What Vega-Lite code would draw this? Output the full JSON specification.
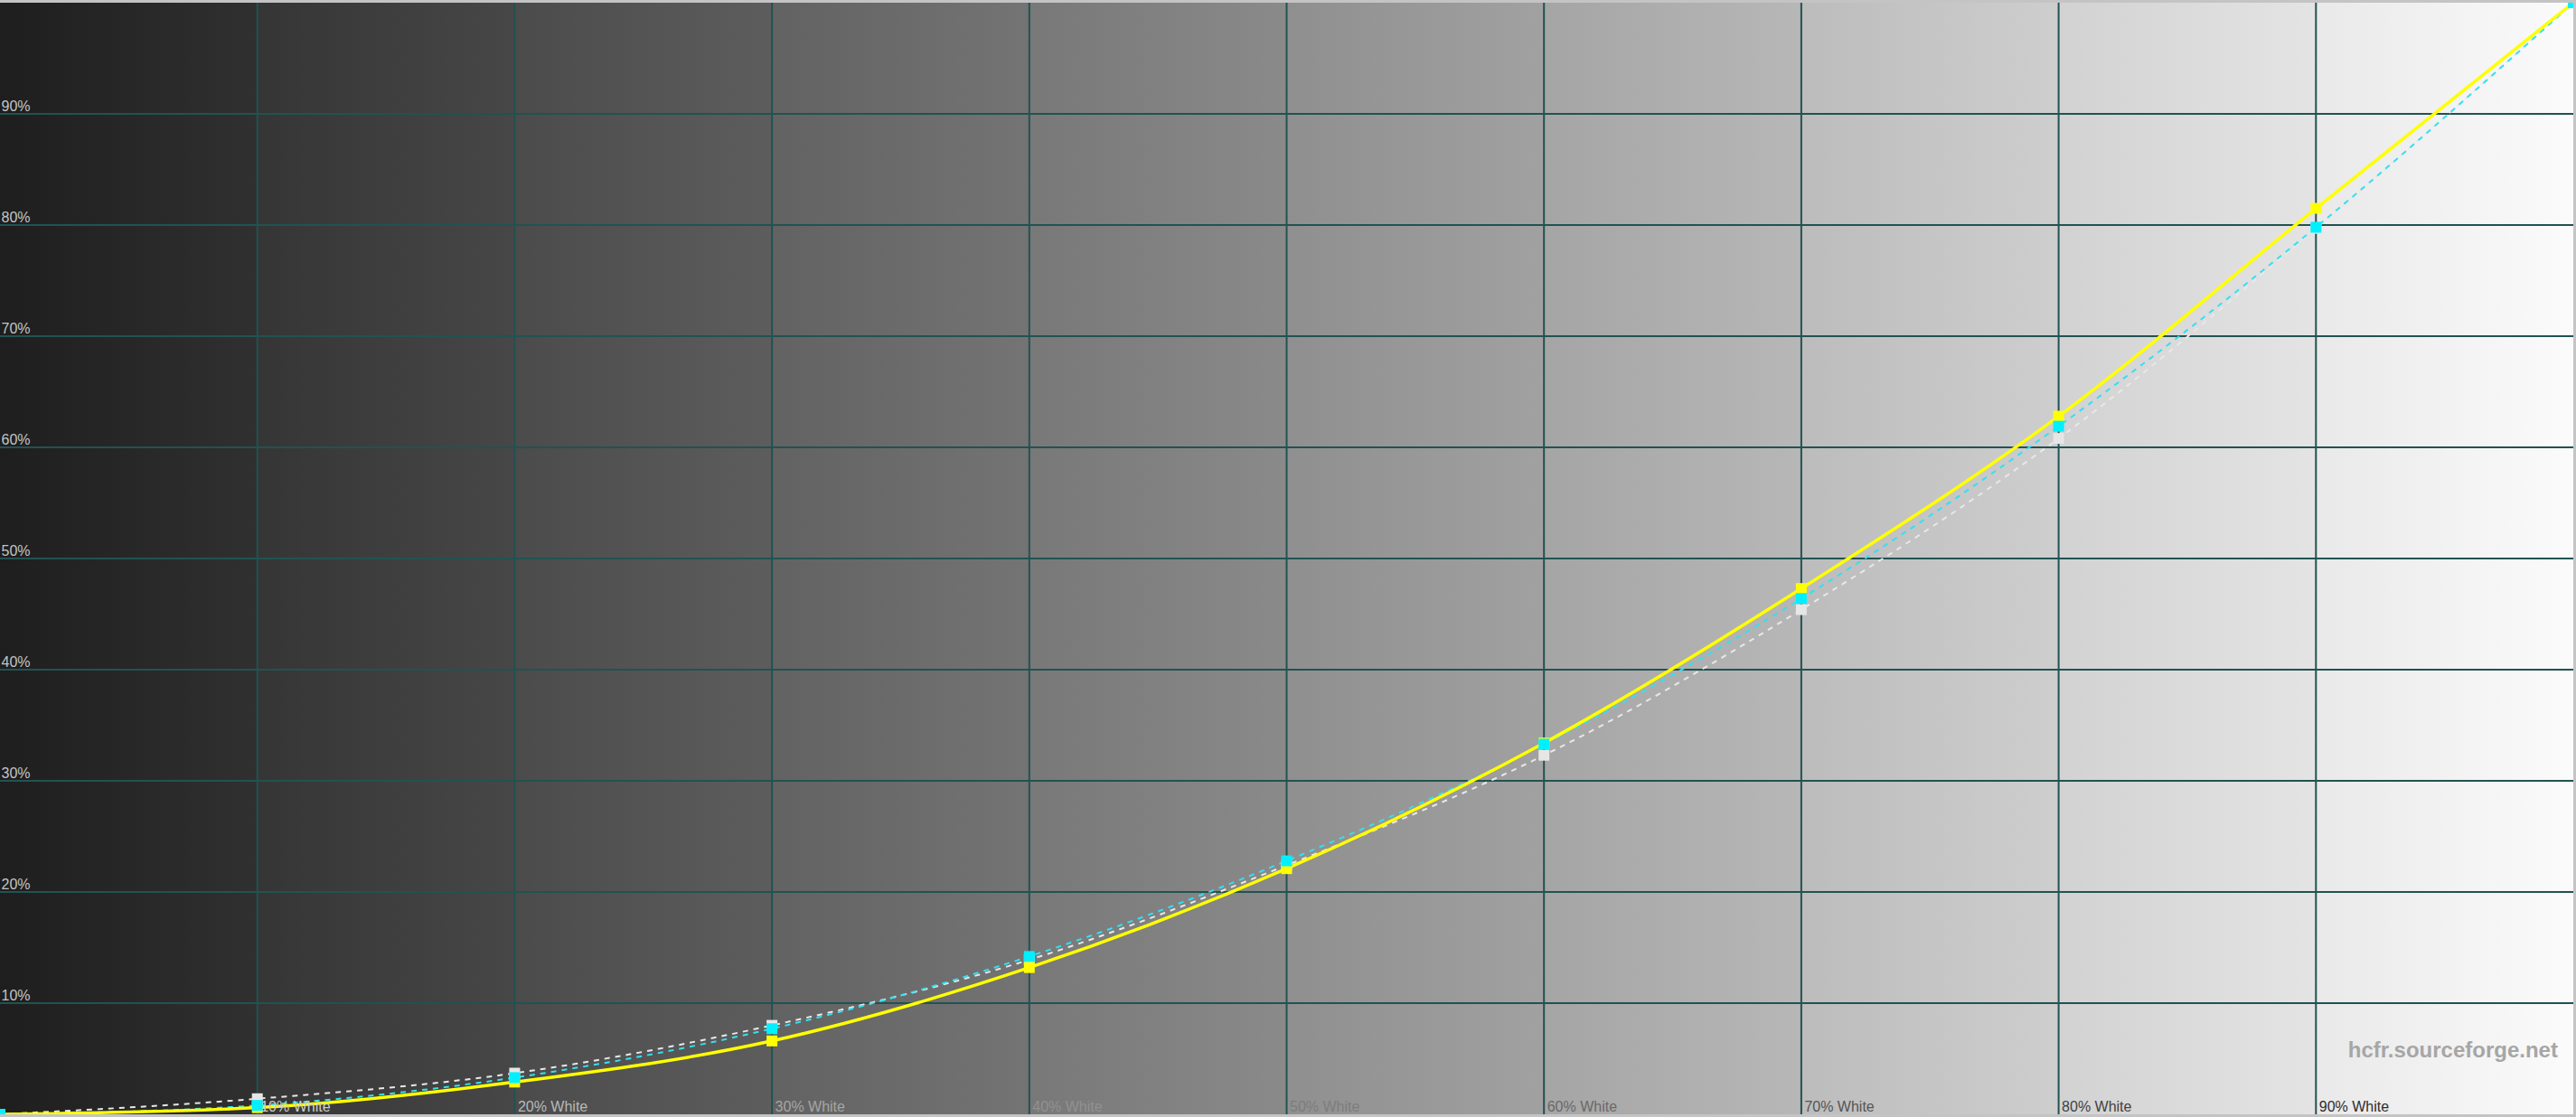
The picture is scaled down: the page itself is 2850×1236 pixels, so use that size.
{
  "$schema": "https://vega.github.io/schema/vega-lite/v6.json",
  "width": 2847,
  "height": 1230,
  "autosize": "none",
  "padding": {"left": 0, "top": 3, "right": 3, "bottom": 3},
  "background": "#c4c4c4",
  "datasets": {
    "panel": [{"x0": 0, "x1": 100, "y0": 0, "y1": 100}],
    "grid": [{"v": 10}, {"v": 20}, {"v": 30}, {"v": 40}, {"v": 50}, {"v": 60}, {"v": 70}, {"v": 80}, {"v": 90}],
    "gamma": [
      {"level": 0, "series": "Reference", "Y": 0},
      {"level": 10, "series": "Reference", "Y": 1.4},
      {"level": 20, "series": "Reference", "Y": 3.7},
      {"level": 30, "series": "Reference", "Y": 8.0},
      {"level": 40, "series": "Reference", "Y": 13.9},
      {"level": 50, "series": "Reference", "Y": 22.4},
      {"level": 60, "series": "Reference", "Y": 32.3},
      {"level": 70, "series": "Reference", "Y": 45.4},
      {"level": 80, "series": "Reference", "Y": 60.8},
      {"level": 90, "series": "Reference", "Y": 79.7},
      {"level": 100, "series": "Reference", "Y": 100},
      {"level": 0, "series": "Measured", "Y": 0},
      {"level": 10, "series": "Measured", "Y": 0.6},
      {"level": 20, "series": "Measured", "Y": 2.9},
      {"level": 30, "series": "Measured", "Y": 6.6},
      {"level": 40, "series": "Measured", "Y": 13.2},
      {"level": 50, "series": "Measured", "Y": 22.1},
      {"level": 60, "series": "Measured", "Y": 33.4},
      {"level": 70, "series": "Measured", "Y": 47.3},
      {"level": 80, "series": "Measured", "Y": 62.8},
      {"level": 90, "series": "Measured", "Y": 81.5},
      {"level": 100, "series": "Measured", "Y": 100},
      {"level": 0, "series": "Target", "Y": 0},
      {"level": 10, "series": "Target", "Y": 0.8},
      {"level": 20, "series": "Target", "Y": 3.3},
      {"level": 30, "series": "Target", "Y": 7.7},
      {"level": 40, "series": "Target", "Y": 14.2},
      {"level": 50, "series": "Target", "Y": 22.8},
      {"level": 60, "series": "Target", "Y": 33.3},
      {"level": 70, "series": "Target", "Y": 46.4},
      {"level": 80, "series": "Target", "Y": 61.9},
      {"level": 90, "series": "Target", "Y": 79.8},
      {"level": 100, "series": "Target", "Y": 100}
    ],
    "credit": [{"x": 99.4, "y": 5.1, "label": "hcfr.sourceforge.net"}]
  },
  "layer": [
    {
      "data": {"name": "panel"},
      "mark": {
        "type": "rect",
        "color": {
          "gradient": "linear",
          "x1": 0, "y1": 0, "x2": 1, "y2": 0,
          "stops": [
            {"offset": 0, "color": "#1e1e1e"}, {"offset": 0.1, "color": "#303030"},
            {"offset": 0.1, "color": "#353535"}, {"offset": 0.2, "color": "#474747"},
            {"offset": 0.2, "color": "#4b4b4b"}, {"offset": 0.3, "color": "#5d5d5d"},
            {"offset": 0.3, "color": "#626262"}, {"offset": 0.4, "color": "#747474"},
            {"offset": 0.4, "color": "#787878"}, {"offset": 0.5, "color": "#8a8a8a"},
            {"offset": 0.5, "color": "#8f8f8f"}, {"offset": 0.6, "color": "#a1a1a1"},
            {"offset": 0.6, "color": "#a5a5a5"}, {"offset": 0.7, "color": "#b7b7b7"},
            {"offset": 0.7, "color": "#bcbcbc"}, {"offset": 0.8, "color": "#cecece"},
            {"offset": 0.8, "color": "#d2d2d2"}, {"offset": 0.9, "color": "#e4e4e4"},
            {"offset": 0.9, "color": "#e9e9e9"}, {"offset": 1, "color": "#fbfbfb"}
          ]
        }
      },
      "encoding": {
        "x": {
          "field": "x0", "type": "quantitative", "title": null,
          "scale": {"domain": [0, 100], "nice": false, "zero": false},
          "axis": {
            "title": null, "orient": "bottom", "grid": false, "domain": false, "ticks": false,
            "tickSize": 0, "values": [10, 20, 30, 40, 50, 60, 70, 80, 90],
            "labelExpr": "datum.value + '% White'",
            "labelAlign": "left", "labelBaseline": "alphabetic",
            "labelPadding": -4, "labelOffset": 3, "labelFlush": false, "labelOverlap": false,
            "labelFont": "Liberation Sans", "labelFontSize": 16,
            "labelColor": {"expr": "'rgb(' + (225 - 2 * datum.value) + ',' + (225 - 2 * datum.value) + ',' + (225 - 2 * datum.value) + ')'"},
            "zindex": 1
          }
        },
        "x2": {"field": "x1"},
        "y": {
          "field": "y0", "type": "quantitative", "title": null,
          "scale": {"domain": [0, 100], "nice": false, "zero": false},
          "axis": {
            "title": null, "orient": "left", "grid": false, "domain": false, "ticks": false,
            "tickSize": 0, "values": [10, 20, 30, 40, 50, 60, 70, 80, 90],
            "labelExpr": "datum.value + '%'",
            "labelAlign": "left", "labelBaseline": "alphabetic",
            "labelPadding": -1, "labelOffset": -4, "labelFlush": false, "labelOverlap": false,
            "labelFont": "Liberation Sans", "labelFontSize": 16, "labelColor": "#c4c4c4",
            "zindex": 1
          }
        },
        "y2": {"field": "y1"}
      }
    },
    {
      "data": {"name": "grid"},
      "mark": {"type": "rule", "color": "#225252", "strokeWidth": 2},
      "encoding": {"x": {"field": "v", "type": "quantitative", "title": null}}
    },
    {
      "data": {"name": "grid"},
      "mark": {"type": "rule", "color": "#225252", "strokeWidth": 2},
      "encoding": {"y": {"field": "v", "type": "quantitative", "title": null}}
    },
    {
      "data": {"name": "gamma"},
      "transform": [{"filter": "datum.series == 'Reference'"}],
      "mark": {"type": "line", "color": "#e8e8e8", "strokeWidth": 2, "strokeDash": [6, 6], "interpolate": "monotone", "clip": true},
      "encoding": {
        "x": {"field": "level", "type": "quantitative", "title": null},
        "y": {"field": "Y", "type": "quantitative", "title": null}
      }
    },
    {
      "data": {"name": "gamma"},
      "transform": [{"filter": "datum.series == 'Target'"}],
      "mark": {"type": "line", "color": "#33e0f0", "strokeWidth": 2, "strokeDash": [6, 6], "interpolate": "monotone", "clip": true},
      "encoding": {
        "x": {"field": "level", "type": "quantitative", "title": null},
        "y": {"field": "Y", "type": "quantitative", "title": null}
      }
    },
    {
      "data": {"name": "gamma"},
      "transform": [{"filter": "datum.series == 'Measured'"}],
      "mark": {"type": "line", "color": "#ffff00", "strokeWidth": 3.5, "interpolate": "monotone", "clip": true},
      "encoding": {
        "x": {"field": "level", "type": "quantitative", "title": null},
        "y": {"field": "Y", "type": "quantitative", "title": null}
      }
    },
    {
      "data": {"name": "gamma"},
      "mark": {"type": "square", "size": 144, "opacity": 1, "filled": true, "clip": true},
      "encoding": {
        "x": {"field": "level", "type": "quantitative", "title": null},
        "y": {"field": "Y", "type": "quantitative", "title": null},
        "color": {
          "field": "series", "type": "nominal", "legend": null,
          "scale": {"domain": ["Reference", "Measured", "Target"], "range": ["#e6e6e6", "#ffff00", "#00f0ff"]}
        }
      }
    },
    {
      "data": {"name": "credit"},
      "mark": {"type": "text", "align": "right", "baseline": "alphabetic", "font": "Liberation Sans", "fontSize": 24, "fontWeight": "bold", "color": "#a6a6a6"},
      "encoding": {
        "x": {"field": "x", "type": "quantitative", "title": null},
        "y": {"field": "y", "type": "quantitative", "title": null},
        "text": {"field": "label"}
      }
    }
  ],
  "config": {"view": {"stroke": null}}
}
